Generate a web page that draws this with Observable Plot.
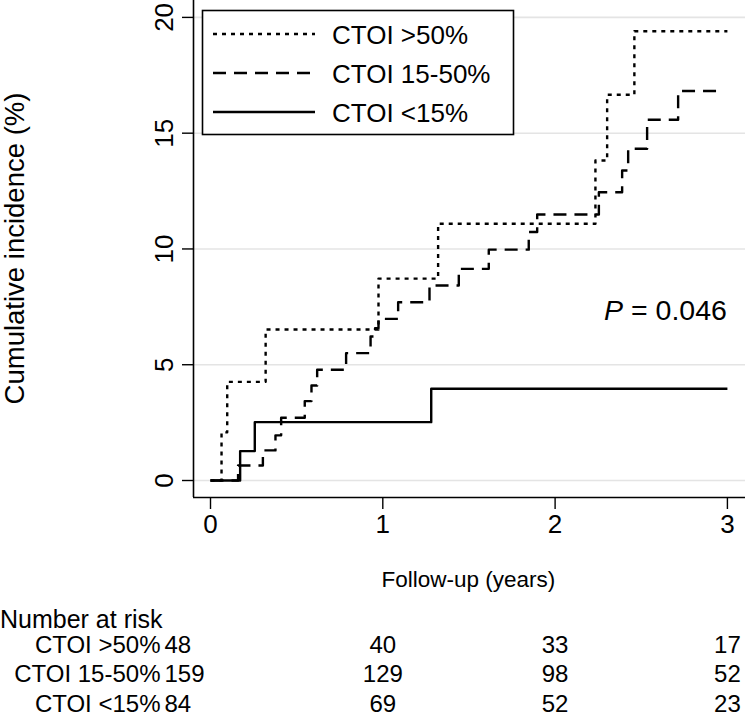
<!DOCTYPE html>
<html>
<head>
<meta charset="utf-8">
<script src="https://cdn.jsdelivr.net/npm/d3@7"></script>
<script src="https://cdn.jsdelivr.net/npm/@observablehq/plot@0.6"></script>
<style>
  html, body { margin: 0; padding: 0; background: #fff; }
  #chart { width: 745px; height: 720px; }
</style>
</head>
<body>
<div id="chart"></div>
<script>
// ---- Data ----
const seriesNames = ["CTOI >50%", "CTOI 15-50%", "CTOI <15%"];
const timesHigh = [0, 0.064, 0.097, 0.32, 0.975, 1.321, 2.234, 2.302, 2.46, 3.0];
const incHigh   = [0, 2.08, 4.26, 6.52, 8.72, 11.09, 13.82, 16.66, 19.4, 19.4];
const timesMid  = [0, 0.16, 0.304, 0.377, 0.41, 0.547, 0.586, 0.619, 0.787, 0.929, 0.955, 0.975, 1.089, 1.271, 1.441, 1.615, 1.847, 1.896, 2.254, 2.389, 2.424, 2.534, 2.714, 2.98];
const incMid    = [0, 0.65, 1.30, 1.95, 2.71, 3.43, 4.10, 4.78, 5.50, 6.22, 6.58, 6.98, 7.70, 8.42, 9.14, 9.97, 10.73, 11.49, 12.45, 13.39, 14.33, 15.58, 16.82, 16.82];
const timesLow  = [0, 0.172, 0.257, 1.281, 3.0];
const incLow    = [0, 1.27, 2.52, 3.96, 3.96];
const xTicks = [0, 1, 2, 3];
const yTicks = [0, 5, 10, 15, 20];
const riskTimes = [0, 1, 2, 3];
const riskHigh = [48, 40, 33, 17];
const riskMid  = [159, 129, 98, 52];
const riskLow  = [84, 69, 52, 23];
const pValue = "0.046";
const xTitle = "Follow-up (years)";
const yTitle = "Cumulative incidence (%)";
const riskTitle = "Number at risk";

// ---- Layout ----
const W = 745, H = 720;
const xDomain = [-0.0987, 3.105];
const yDomain = [-0.734, 20.73];
const FONT = "'Liberation Sans', Arial, Helvetica, sans-serif";
const dashes = ["4,5", "13,8", null];

const toRows = (ts, vs, g) => ts.map((t, i) => ({t, v: vs[i], g}));
const curves = [
  toRows(timesHigh, incHigh, seriesNames[0]),
  toRows(timesMid, incMid, seriesNames[1]),
  toRows(timesLow, incLow, seriesNames[2])
];
const riskSets = [riskHigh, riskMid, riskLow];
const rowDy = [155, 184, 214];

const marks = [
  Plot.gridY(yTicks, {stroke: "#e4e4e4", strokeOpacity: 1, strokeWidth: 1.6}),
  Plot.ruleX([xDomain[0]], {stroke: "#000", strokeWidth: 1.6}),
  Plot.ruleY([yDomain[0]], {stroke: "#000", strokeWidth: 1.6}),
  Plot.axisX(xTicks, {tickSize: 12, tickPadding: 5, fontSize: 26, tickFormat: d3.format("d"), label: null, stroke: "#000", strokeWidth: 1.4, fill: "#000"}),
  Plot.axisY(yTicks, {tickSize: 11, tickRotate: -90, tickPadding: 10, fontSize: 26, tickFormat: d3.format("d"), label: null, stroke: "#000", strokeWidth: 1.4, fill: "#000"}),
];
curves.forEach((c, i) => {
  marks.push(Plot.line(c, {x: "t", y: "v", curve: "step-after", stroke: "#000", strokeWidth: 2.4,
    strokeDasharray: dashes[i] || undefined, strokeLinecap: "butt"}));
});
// risk table numbers and row labels
riskSets.forEach((arr, i) => {
  const cells = riskTimes.map((t, j) => ({t, n: arr[j]}));
  marks.push(Plot.text(cells.filter(d => d.t > 0), {x: "t", text: d => String(d.n), frameAnchor: "bottom", dy: rowDy[i], fontSize: 24, fill: "#000"}));
  marks.push(Plot.text(cells.filter(d => d.t === 0), {x: "t", text: d => String(d.n), frameAnchor: "bottom", dy: rowDy[i], dx: -46, textAnchor: "start", fontSize: 24, fill: "#000"}));
  marks.push(Plot.text([seriesNames[i]], {x: () => 0, text: d => d, frameAnchor: "bottom", dy: rowDy[i], dx: -50, textAnchor: "end", fontSize: 24, fill: "#000"}));
});

const plot = Plot.plot({
  width: W, height: H,
  marginLeft: 193, marginRight: 0, marginTop: 0, marginBottom: H - 497,
  style: {fontFamily: FONT, fontSize: "25px", color: "#000", background: "#fff", overflow: "visible"},
  x: {domain: xDomain, label: null},
  y: {domain: yDomain, label: null},
  marks
});
document.getElementById("chart").appendChild(plot);

// ---- Annotations, titles, legend ----
const svg = d3.select(plot);
const xs = plot.scale("x"), ys = plot.scale("y");

// x title
svg.append("text").attr("x", (xs.apply(0) + xs.apply(3)) / 2).attr("y", 587)
  .attr("text-anchor", "middle").attr("font-family", FONT).attr("font-size", 22.5).attr("fill", "#000").text(xTitle);
// y title
svg.append("text").attr("transform", `translate(24,${(0 + 497) / 2}) rotate(-90)`)
  .attr("text-anchor", "middle").attr("font-family", FONT).attr("font-size", 27.5).attr("fill", "#000").text(yTitle);
// number at risk title
svg.append("text").attr("x", 0).attr("y", 628)
  .attr("text-anchor", "start").attr("font-family", FONT).attr("font-size", 25).attr("fill", "#000").text(riskTitle);

// P value
const pt = svg.append("text").attr("x", xs.apply(3)).attr("y", ys.apply(6.9))
  .attr("text-anchor", "end").attr("font-family", FONT).attr("font-size", 28.5).attr("fill", "#000");
pt.append("tspan").attr("font-style", "italic").text("P");
pt.append("tspan").text(" = " + pValue);

// legend
const lg = svg.append("g");
lg.append("rect").attr("x", 202.5).attr("y", 10.5).attr("width", 311).attr("height", 124)
  .attr("fill", "#fff").attr("stroke", "#000").attr("stroke-width", 1.6);
const rowsY = [34, 73, 112];
seriesNames.forEach((name, i) => {
  lg.append("line").attr("x1", 213).attr("x2", 315).attr("y1", rowsY[i]).attr("y2", rowsY[i])
    .attr("stroke", "#000").attr("stroke-width", 2.4).attr("stroke-dasharray", dashes[i] || null);
  lg.append("text").attr("x", 332).attr("y", rowsY[i] + 10).attr("text-anchor", "start")
    .attr("font-family", FONT).attr("font-size", 26).attr("fill", "#000").text(name);
});
</script>
</body>
</html>
